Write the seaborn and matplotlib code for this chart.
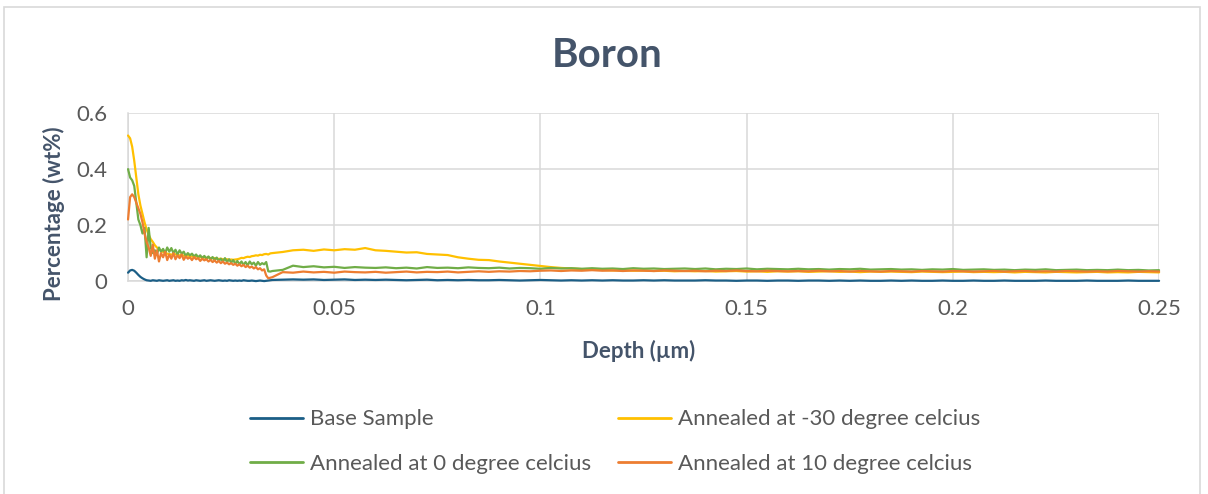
import numpy as np
import pandas as pd
import matplotlib
matplotlib.use("Agg")
import matplotlib.pyplot as plt
from matplotlib.patches import Rectangle
import seaborn as sns

# ---------------- data ----------------
depth_early = np.round(np.arange(0, 0.035 + 1e-9, 0.0005), 4)      # 71 samples
depth_late = np.round(np.arange(0.0375, 0.25 + 1e-9, 0.0025), 4)   # 86 samples

base_early = [0.03, 0.038, 0.04, 0.037, 0.03, 0.022, 0.015, 0.01, 0.006, 0.003, 0.002,
              0.001, 0.003, 0.002, 0.001, 0.003, 0.002, 0.001, 0.002, 0.003, 0.001,
              0.002, 0.003, 0.001, 0.002, 0.001, 0.003, 0.002, 0.004, 0.002, 0.003,
              0.002, 0.001, 0.003, 0.002, 0.001, 0.002, 0.003, 0.001, 0.002, 0.003,
              0.002, 0.001, 0.002, 0.003, 0.002, 0.001, 0.002, 0.001, 0.003, 0.002,
              0.001, 0.002, 0.001, 0.002, 0.001, 0.003, 0.002, 0.001, 0.001, 0.002,
              0.001, 0.0, 0.001, 0.002, 0.001, 0.0, 0.001, 0.002, 0.003, 0.004]
base_late = [0.005, 0.006, 0.005, 0.006, 0.004, 0.005, 0.006, 0.004, 0.005, 0.004,
             0.005, 0.004, 0.003, 0.004, 0.005, 0.003, 0.004, 0.003, 0.004, 0.003,
             0.003, 0.004, 0.003, 0.002, 0.003, 0.004, 0.003, 0.002, 0.003, 0.002,
             0.003, 0.002, 0.003, 0.002, 0.002, 0.003, 0.002, 0.003, 0.002, 0.002,
             0.002, 0.003, 0.002, 0.002, 0.001, 0.002, 0.002, 0.001, 0.002, 0.002,
             0.001, 0.002, 0.002, 0.001, 0.002, 0.001, 0.002, 0.001, 0.001, 0.002,
             0.001, 0.002, 0.001, 0.001, 0.002, 0.001, 0.001, 0.002, 0.001, 0.001,
             0.002, 0.001, 0.001, 0.001, 0.002, 0.001, 0.001, 0.001, 0.002, 0.001,
             0.001, 0.001, 0.002, 0.001, 0.001, 0.001]

m30_early = [0.52, 0.51, 0.48, 0.43, 0.37, 0.31, 0.27, 0.24, 0.21, 0.185, 0.165,
             0.15, 0.14, 0.128, 0.12, 0.113, 0.108, 0.104, 0.1, 0.098, 0.096,
             0.095, 0.094, 0.096, 0.093, 0.092, 0.093, 0.091, 0.09, 0.091, 0.089,
             0.088, 0.087, 0.088, 0.086, 0.085, 0.086, 0.084, 0.083, 0.084, 0.082,
             0.081, 0.082, 0.08, 0.079, 0.08, 0.078, 0.077, 0.078, 0.076, 0.077,
             0.076, 0.077, 0.078, 0.08, 0.083, 0.082, 0.085, 0.087, 0.086, 0.089,
             0.09, 0.092, 0.091, 0.094, 0.093, 0.096, 0.097, 0.095, 0.099, 0.1]
m30_late = [0.104, 0.11, 0.112, 0.108, 0.113, 0.11, 0.114, 0.112, 0.118, 0.11,
            0.108, 0.105, 0.102, 0.103, 0.097, 0.095, 0.093, 0.085, 0.08, 0.076,
            0.075, 0.07, 0.066, 0.062, 0.058, 0.054, 0.05, 0.047, 0.045, 0.043,
            0.041, 0.04, 0.038, 0.039, 0.037, 0.038, 0.036, 0.037, 0.035, 0.036,
            0.035, 0.036, 0.034, 0.035, 0.036, 0.034, 0.035, 0.033, 0.035, 0.034,
            0.035, 0.033, 0.034, 0.035, 0.033, 0.034, 0.032, 0.034, 0.033, 0.034,
            0.033, 0.032, 0.034, 0.033, 0.032, 0.033, 0.034, 0.032, 0.033, 0.032,
            0.033, 0.031, 0.033, 0.032, 0.031, 0.033, 0.032, 0.031, 0.032, 0.033,
            0.031, 0.032, 0.031, 0.033, 0.032, 0.031]

z0_early = [0.40, 0.37, 0.36, 0.34, 0.28, 0.22, 0.2, 0.17, 0.19, 0.085, 0.19,
            0.12, 0.1, 0.11, 0.095, 0.12, 0.105, 0.115, 0.1, 0.12, 0.105,
            0.118, 0.1, 0.112, 0.095, 0.11, 0.098, 0.105, 0.09, 0.1, 0.092,
            0.098, 0.088, 0.095, 0.085, 0.092, 0.082, 0.09, 0.08, 0.088, 0.078,
            0.086, 0.076, 0.084, 0.072, 0.08, 0.07, 0.082, 0.068, 0.078, 0.066,
            0.075, 0.062, 0.072, 0.06, 0.07, 0.058, 0.068, 0.056, 0.07, 0.06,
            0.066, 0.055, 0.068, 0.058, 0.064, 0.06, 0.068, 0.035, 0.034, 0.036]
z0_late = [0.04, 0.055, 0.05, 0.053, 0.049, 0.051, 0.047, 0.05, 0.048, 0.047,
           0.049, 0.046, 0.048, 0.045, 0.05, 0.047, 0.048, 0.046, 0.049, 0.047,
           0.046, 0.048, 0.045, 0.047, 0.046, 0.044, 0.047, 0.045, 0.046, 0.044,
           0.046, 0.044, 0.045, 0.043, 0.046, 0.044, 0.045, 0.043, 0.044, 0.045,
           0.043, 0.045, 0.042, 0.044, 0.043, 0.045, 0.042, 0.044, 0.043, 0.042,
           0.044, 0.042, 0.043, 0.041, 0.043, 0.042, 0.044, 0.041, 0.042, 0.043,
           0.041, 0.042, 0.04, 0.042, 0.041, 0.043, 0.04, 0.041, 0.042, 0.04,
           0.041, 0.039, 0.041, 0.04, 0.042, 0.039, 0.04, 0.041, 0.039, 0.04,
           0.039, 0.041, 0.039, 0.04, 0.038, 0.039]

p10_early = [0.22, 0.3, 0.31, 0.3, 0.28, 0.26, 0.24, 0.21, 0.17, 0.14, 0.12,
             0.09, 0.13, 0.08, 0.11, 0.07, 0.1, 0.085, 0.105, 0.075, 0.095,
             0.08, 0.1, 0.078, 0.092, 0.082, 0.095, 0.076, 0.088, 0.08, 0.085,
             0.075, 0.086, 0.078, 0.082, 0.072, 0.08, 0.074, 0.078, 0.07, 0.076,
             0.068, 0.074, 0.066, 0.072, 0.064, 0.07, 0.062, 0.066, 0.06, 0.064,
             0.058, 0.062, 0.055, 0.06, 0.053, 0.058, 0.05, 0.055, 0.048, 0.052,
             0.045, 0.05, 0.042, 0.046, 0.038, 0.042, 0.02, 0.01, 0.012, 0.014]
p10_late = [0.032, 0.03, 0.034, 0.031, 0.033, 0.03, 0.034, 0.032, 0.031, 0.033,
            0.03, 0.032, 0.034, 0.031, 0.033, 0.032, 0.034, 0.031, 0.033, 0.035,
            0.033, 0.035, 0.034, 0.036, 0.035, 0.037, 0.038, 0.036, 0.038, 0.037,
            0.039, 0.037, 0.038, 0.036, 0.038, 0.037, 0.036, 0.038, 0.037, 0.036,
            0.037, 0.035, 0.037, 0.036, 0.038, 0.036, 0.035, 0.037, 0.036, 0.035,
            0.036, 0.035, 0.037, 0.035, 0.036, 0.034, 0.036, 0.035, 0.034, 0.036,
            0.035, 0.034, 0.036, 0.035, 0.034, 0.036, 0.035, 0.034, 0.035, 0.036,
            0.034, 0.035, 0.036, 0.034, 0.035, 0.034, 0.036, 0.035, 0.034, 0.035,
            0.034, 0.036, 0.035, 0.034, 0.035, 0.034]

series_names = ["Base Sample", "Annealed at -30 degree celcius",
                "Annealed at 0 degree celcius", "Annealed at 10 degree celcius"]
series_colors = ["#1B5E86", "#FFC000", "#70AD47", "#ED7D31"]
x_ticks = [0, 0.05, 0.1, 0.15, 0.2, 0.25]
x_tick_labels = ["0", "0.05", "0.1", "0.15", "0.2", "0.25"]
y_ticks = [0, 0.2, 0.4, 0.6]
y_tick_labels = ["0", "0.2", "0.4", "0.6"]

depth = np.concatenate([depth_early, depth_late])
values = [base_early + base_late, m30_early + m30_late,
          z0_early + z0_late, p10_early + p10_late]
frames = [pd.DataFrame({"Depth": depth, "Percentage": v, "Series": n})
          for n, v in zip(series_names, values)]
df = pd.concat(frames, ignore_index=True)

# ---------------- plot ----------------
sns.set_theme(style="white")
plt.rcParams["font.family"] = ["Lato", "DejaVu Sans"]
text_col = "#44546A"
tick_col = "#595959"
grid_col = "#D9D9D9"

fig = plt.figure(figsize=(12.08, 4.94), dpi=100)
fig.patch.set_facecolor("white")
fig.patches.append(Rectangle((0.003, -0.01), 0.99, 0.996, transform=fig.transFigure,
                             fill=False, edgecolor=grid_col, linewidth=1.2))
ax = fig.add_axes([0.106, 0.431, 0.8535, 0.340])

sns.lineplot(data=df, x="Depth", y="Percentage", hue="Series",
             hue_order=series_names, palette=dict(zip(series_names, series_colors)),
             linewidth=1.6, ax=ax, legend=False, estimator=None, sort=False,
             zorder=3, clip_on=False)

ax.set_xlim(0, 0.25)
ax.set_ylim(0, 0.6)
ax.set_xticks(x_ticks)
ax.set_xticklabels(x_tick_labels)
ax.set_yticks(y_ticks)
ax.set_yticklabels(y_tick_labels)
ax.tick_params(axis="both", length=0, labelsize=16, colors=tick_col)
ax.tick_params(axis="x", pad=13)
ax.tick_params(axis="y", pad=15)
ax.grid(True, color=grid_col, linewidth=1.1)
ax.set_axisbelow(True)
for s in ["top", "right"]:
    ax.spines[s].set_visible(False)
for s in ["left", "bottom"]:
    ax.spines[s].set_color(grid_col)
    ax.spines[s].set_linewidth(1.1)

ax.set_xlabel("Depth (µm)", fontsize=16, fontweight="bold", color=text_col)
ax.set_ylabel("Percentage (wt%)", fontsize=16, fontweight="bold", color=text_col)
ax.xaxis.set_label_coords(0.4955, -0.35)
ax.yaxis.set_label_coords(-0.061, 0.40)
fig.text(0.5025, 0.888, "Boron", ha="center", va="center", fontsize=29,
         fontweight="bold", color=text_col)

# legend filled row by row: (Base, -30) then (0, 10)
order = [0, 2, 1, 3]
handles = [plt.Line2D([], [], color=series_colors[i], linewidth=2) for i in order]
labels = [series_names[i] for i in order]
leg = fig.legend(handles, labels, loc="center", bbox_to_anchor=(0.509, 0.106),
                 ncol=2, frameon=False, fontsize=16, handlelength=2.4,
                 handletextpad=0.3, columnspacing=1.2, labelspacing=1.1)
for t in leg.get_texts():
    t.set_color(tick_col)

fig.savefig("out.png", dpi=100)
